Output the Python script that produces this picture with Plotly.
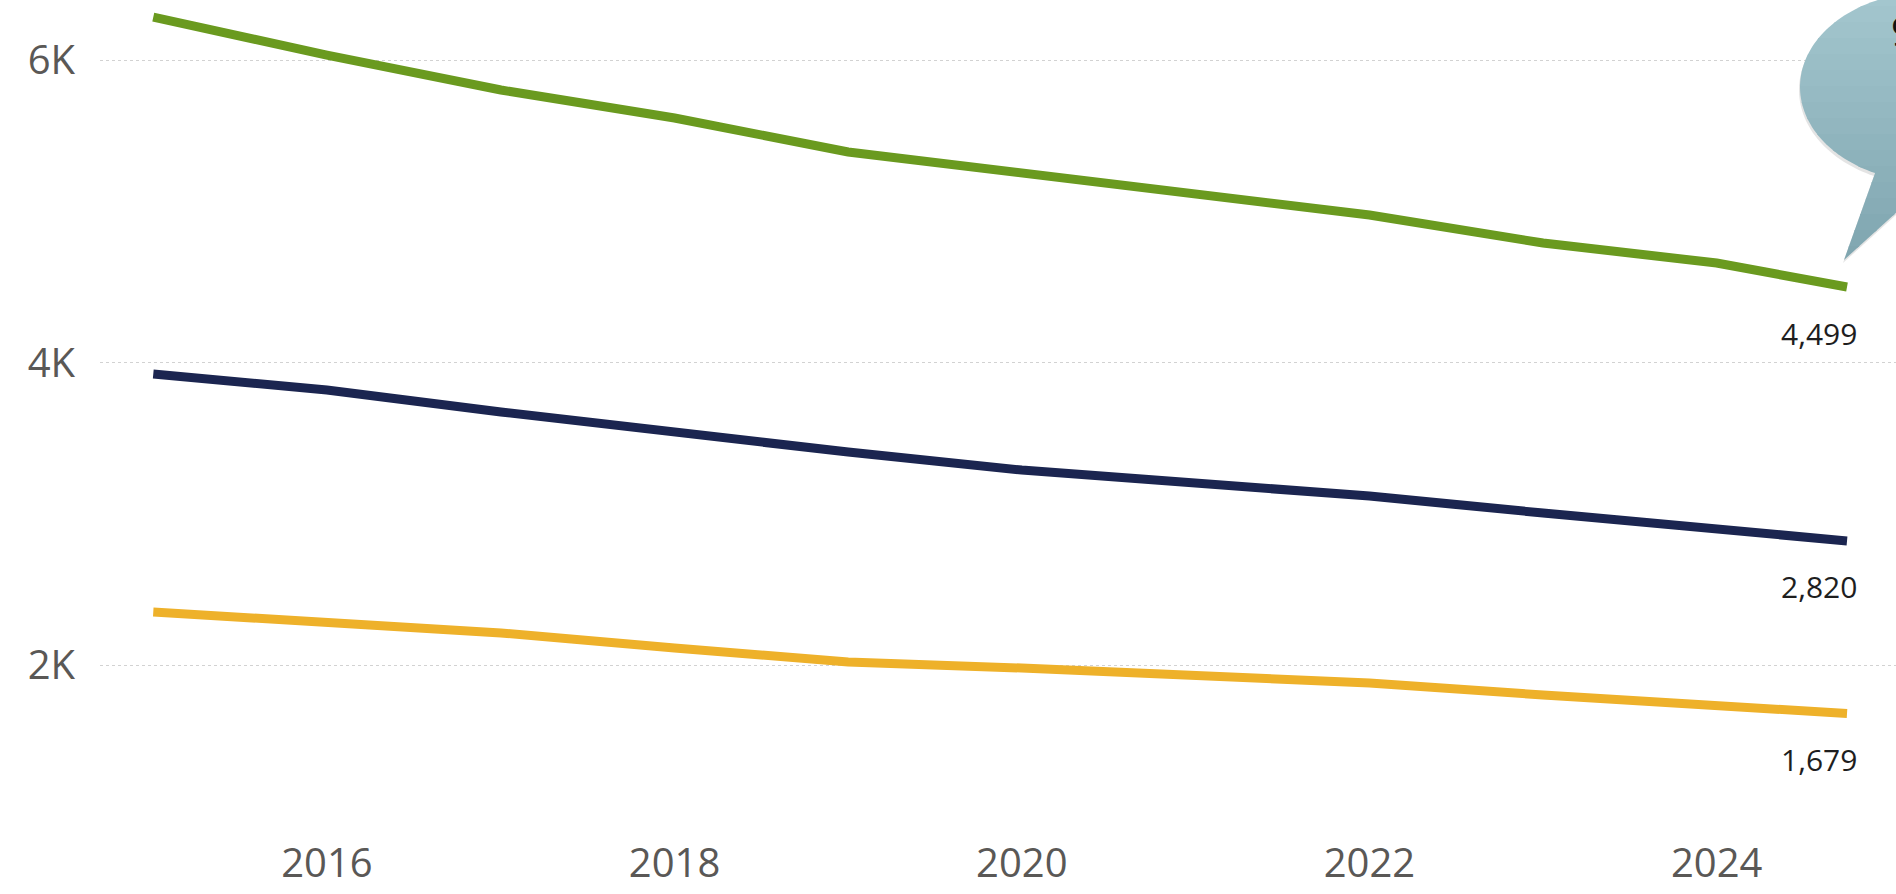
import numpy as np
import plotly.graph_objects as go

# Quarter-start dates of the plotted observations (annual points plus the latest quarter)
periods = [
    "2015-01-01", "2016-01-01", "2017-01-01", "2018-01-01", "2019-01-01",
    "2020-01-01", "2021-01-01", "2022-01-01", "2023-01-01", "2024-01-01",
    "2024-10-01",
]
green_vals = [6284, 6033, 5802, 5617, 5392, 5253, 5128, 4975, 4790, 4658, 4499]
navy_vals = [3924, 3818, 3673, 3534, 3408, 3289, 3210, 3117, 3005, 2906, 2820]
gold_vals = [2350, 2278, 2212, 2112, 2020, 1980, 1934, 1881, 1802, 1736, 1679]

year_ticks = ["2016-01-01", "2018-01-01", "2020-01-01", "2022-01-01", "2024-01-01"]
year_labels = ["2016", "2018", "2020", "2022", "2024"]
k_ticks = [2000, 4000, 6000]
k_labels = ["2K", "4K", "6K"]

series = [
    (green_vals, "#6a9a1f"),
    (navy_vals, "#1b2550"),
    (gold_vals, "#eeb12a"),
]

W, H = 1896, 894
ML, MR, MT, MB = 100, 0, 0, 68
PW, PH = W - ML - MR, H - MT - MB
FONT = "Open Sans"

fig = go.Figure()
for vals, color in series:
    fig.add_trace(go.Scatter(
        x=periods, y=vals, mode="lines",
        line=dict(color=color, width=9, shape="linear"),
        hoverinfo="skip", showlegend=False,
    ))
    fig.add_annotation(
        x=periods[-1], y=vals[-1], xref="x", yref="y",
        text=f"{vals[-1]:,}", showarrow=False,
        xanchor="center", yanchor="middle", xshift=-28, yshift=-46,
        font=dict(family=FONT, size=30, color="#1e1e1e"),
    )


def to_paper(px, py):
    return (px - ML) / PW, (MT + PH - py) / PH


def path_from(points):
    pts = [to_paper(px, py) for px, py in points]
    return "M " + " L ".join(f"{x:.5f},{y:.5f}" for x, y in pts) + " Z"


def clip_band(poly, y0, y1):
    """Clip a polygon (pixel coords) to the horizontal band y0 <= y <= y1."""
    def clip(points, inside, cross):
        out = []
        n = len(points)
        for i in range(n):
            cur, prev = points[i], points[i - 1]
            if inside(cur):
                if not inside(prev):
                    out.append(cross(prev, cur))
                out.append(cur)
            elif inside(prev):
                out.append(cross(prev, cur))
        return out

    def cross_at(yc):
        def f(a, b):
            t = (yc - a[1]) / (b[1] - a[1])
            return (a[0] + t * (b[0] - a[0]), yc)
        return f

    pts = clip(poly, lambda p: p[1] >= y0, cross_at(y0))
    if pts:
        pts = clip(pts, lambda p: p[1] <= y1, cross_at(y1))
    return pts


# Speech-bubble callout in the top-right corner
cx, cy, rx, ry = 1930, 87, 130, 95
tip = (1844, 260)
bubble = [(cx, cy + ry), tip]
for deg in np.arange(115, 451, 2):
    t = np.radians(deg)
    bubble.append((cx + rx * np.cos(t), cy + ry * np.sin(t)))
shadow = [(px - 1, py + 3) for px, py in bubble]

fig.add_shape(type="path", xref="paper", yref="paper", path=path_from(shadow),
              fillcolor="rgba(90,90,90,0.16)", line=dict(width=0), layer="above")

top_rgb = np.array([0xa3, 0xc6, 0xce])
bot_rgb = np.array([0x80, 0xa6, 0xb0])
edges = np.linspace(-10, 262, 18)
for i in range(len(edges) - 1):
    band = clip_band(bubble, edges[i], edges[i + 1] + 1.5)
    if len(band) < 3:
        continue
    f = i / (len(edges) - 2)
    r, g, b = (top_rgb + (bot_rgb - top_rgb) * f).round().astype(int)
    fig.add_shape(type="path", xref="paper", yref="paper", path=path_from(band),
                  fillcolor=f"rgb({r},{g},{b})", line=dict(width=0), layer="above")

bx, by = to_paper(1889, 31)
fig.add_annotation(x=bx, y=by, xref="paper", yref="paper", text="9",
                   showarrow=False, xanchor="left", yanchor="middle",
                   font=dict(family=FONT, size=40, color="#111111"))

fig.update_layout(
    width=W, height=H,
    margin=dict(l=ML, r=MR, t=MT, b=MB, pad=0),
    paper_bgcolor="white", plot_bgcolor="white",
    font=dict(family=FONT, color="#605e5c"),
    xaxis=dict(
        type="date", range=["2014-09-11", "2025-01-12"],
        tickvals=year_ticks, ticktext=year_labels,
        showgrid=False, zeroline=False, showline=False, ticks="",
        ticklabelstandoff=10,
        tickfont=dict(family=FONT, size=40, color="#5a5856"),
    ),
    yaxis=dict(
        range=[935.5, 6397],
        tickvals=k_ticks, ticktext=k_labels,
        showgrid=True, gridcolor="#d2d2d2", gridwidth=1, griddash="dot",
        zeroline=False, showline=False, ticks="",
        ticklabelstandoff=24,
        tickfont=dict(family=FONT, size=40, color="#5a5856"),
    ),
)

fig.write_html("out.html")
